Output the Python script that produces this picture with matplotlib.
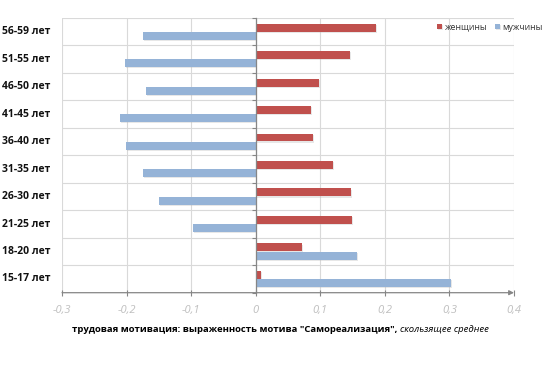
import numpy as np
import matplotlib
matplotlib.use('Agg')
import matplotlib.pyplot as plt
from matplotlib import patheffects as pe
from matplotlib.ticker import FixedLocator

plt.rcParams['font.family'] = ['Open Sans', 'DejaVu Sans']

ages = ['15-17 лет', '18-20 лет', '21-25 лет', '26-30 лет', '31-35 лет',
        '36-40 лет', '41-45 лет', '46-50 лет', '51-55 лет', '56-59 лет']
women = [0.008, 0.071, 0.149, 0.148, 0.119, 0.089, 0.086, 0.098, 0.146, 0.186]
men = [0.303, 0.157, -0.097, -0.150, -0.174, -0.201, -0.210, -0.170, -0.202, -0.175]
xticks = [-0.3, -0.2, -0.1, 0, 0.1, 0.2, 0.3, 0.4]
xlabels = ['-0,3', '-0,2', '-0,1', '0', '0,1', '0,2', '0,3', '0,4']

red = '#C0504D'
blue = '#95B3D7'

fig = plt.figure(figsize=(5.5, 3.71), dpi=100)
ax = fig.add_axes([62/550, 1-292.7/371, (514-62)/550, (292.7-18)/371])

y = np.arange(len(ages))
h = 0.29
shadow = [pe.SimplePatchShadow(offset=(0.8, -0.8), shadow_rgbFace='#BBBBBB', alpha=0.35), pe.Normal()]
ax.barh(y+0.15, women, height=h, color=red, label='женщины', path_effects=shadow, zorder=3)
ax.barh(y-0.15, men, height=h, color=blue, label='мужчины', path_effects=shadow, zorder=3)

ax.set_xlim(-0.3, 0.4)
ax.set_ylim(-0.5, len(ages)-0.5)

# grid
for b in np.arange(-0.5, len(ages), 1.0):
    ax.axhline(b, color='#D9D9D9', lw=0.8, zorder=1)
for xv in xticks:
    ax.axvline(xv, color='#D9D9D9', lw=0.8, zorder=1)

for s in ['top', 'right', 'bottom']:
    ax.spines[s].set_visible(False)
ax.spines['left'].set_position(('data', 0))
ax.spines['left'].set_color('#868686')
ax.spines['left'].set_linewidth(0.9)
ax.spines['left'].set_zorder(4)

ax.yaxis.set_major_locator(FixedLocator(np.arange(-0.5, len(ages), 1.0)))
ax.tick_params(axis='y', length=3, color='#868686', labelleft=False)
for i, lab in enumerate(ages):
    ax.text(-0.025, i, lab, transform=ax.get_yaxis_transform(), ha='right', va='center',
            fontsize=7.5, fontweight='bold', color='#111111')

ax.set_xticks(xticks)
ax.set_xticklabels(xlabels)
ax.tick_params(axis='x', direction='inout', length=5, color='#868686', pad=6,
               labelsize=8, labelcolor='#BFBFBF')
for t in ax.get_xticklabels():
    t.set_style('italic')

ax.annotate('', xy=(1.0, 0), xytext=(0, 0), xycoords='axes fraction',
            arrowprops=dict(arrowstyle='-|>', color='#868686', lw=0.9,
                            mutation_scale=7, shrinkA=0, shrinkB=0), zorder=5)

fig.legend(loc='center', bbox_to_anchor=(490/550, 1-27/371), ncol=2, frameon=False,
           fontsize=6.3, handlelength=0.6, handleheight=0.6, handletextpad=0.3,
           columnspacing=0.8, labelcolor='#333333')

# axis title in two styles
t1 = fig.text(0, 1-329/371, 'трудовая мотивация: выраженность мотива "Самореализация", ',
              fontsize=6.8, fontweight='bold', va='center', ha='left')
t2 = fig.text(0, 1-329/371, 'скользящее среднее', fontsize=6.8, style='italic',
              va='center', ha='left')
fig.canvas.draw()
r = fig.canvas.get_renderer()
w1 = t1.get_window_extent(r).width
w2 = t2.get_window_extent(r).width
x0 = 280 - (w1 + w2) / 2
t1.set_x(x0 / 550)
t2.set_x((x0 + w1) / 550)

fig.savefig('out.png', dpi=100)
